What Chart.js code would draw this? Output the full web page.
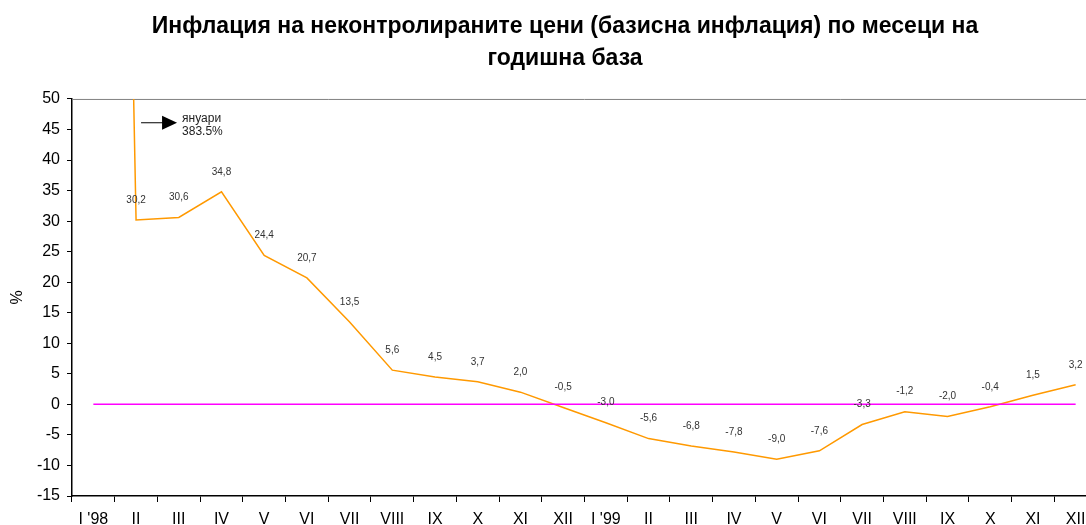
<!DOCTYPE html>
<html>
<head>
<meta charset="utf-8">
<script src="https://cdn.jsdelivr.net/npm/chart.js@4.4.1/dist/chart.umd.min.js"></script>
<style>
  body { margin: 0; overflow: hidden; background: #fff; }
  #wrap { width: 1130px; height: 525px; }
</style>
</head>
<body>
<div id="wrap"><canvas id="inflChart"></canvas></div>
<script>
// месеци 1998-1999
const months = ["I '98", "II", "III", "IV", "V", "VI", "VII", "VIII", "IX", "X", "XI", "XII",
                "I '99", "II", "III", "IV", "V", "VI", "VII", "VIII", "IX", "X", "XI", "XII"];
// базисна инфлация, %
const coreInflation = [383.5, 30.2, 30.6, 34.8, 24.4, 20.7, 13.5, 5.6, 4.5, 3.7, 2.0, -0.5,
                       -3.0, -5.6, -6.8, -7.8, -9.0, -7.6, -3.3, -1.2, -2.0, -0.4, 1.5, 3.2];
const zeroLine = months.map(() => 0);
const yMin = -15, yMax = 50, yStep = 5;
const titleLines = ["Инфлация на неконтролираните цени (базисна инфлация) по месеци на", "годишна база"];
const noteLines = ["януари", "383.5%"];

// стойности над точките + стрелка за януари
const labelsPlugin = {
    id: 'valueLabels',
    beforeDatasetsDraw(chart) {
        const { ctx, chartArea } = chart;
        ctx.save();
        ctx.strokeStyle = '#808080';
        ctx.lineWidth = 1;
        ctx.beginPath();
        ctx.moveTo(chartArea.left, chartArea.top + 0.5);
        ctx.lineTo(chartArea.right, chartArea.top + 0.5);
        ctx.stroke();
        ctx.restore();
    },
    afterDatasetsDraw(chart) {
        const ctx = chart.ctx;
        const meta = chart.getDatasetMeta(1);
        const ys = chart.scales.y;
        ctx.save();
        ctx.font = '10px Arial, "Liberation Sans"';
        ctx.fillStyle = '#333';
        ctx.textAlign = 'center';
        ctx.textBaseline = 'middle';
        meta.data.forEach((pt, i) => {
            const v = coreInflation[i];
            if (v > yMax) return;
            ctx.fillText(v.toFixed(1).replace('.', ','), pt.x, pt.y - 20);
        });

        // стрелка
        const x0 = meta.data[1].x + 5;
        const yA = ys.getPixelForValue(46.1);
        ctx.strokeStyle = '#000';
        ctx.fillStyle = '#000';
        ctx.lineWidth = 1;
        ctx.beginPath();
        ctx.moveTo(x0, yA);
        ctx.lineTo(x0 + 22, yA);
        ctx.stroke();
        ctx.beginPath();
        ctx.moveTo(x0 + 21, yA - 7);
        ctx.lineTo(x0 + 36, yA);
        ctx.lineTo(x0 + 21, yA + 7);
        ctx.closePath();
        ctx.fill();
        ctx.font = '12px Arial, "Liberation Sans"';
        ctx.fillStyle = '#222';
        ctx.textAlign = 'left';
        ctx.fillText(noteLines[0], x0 + 41, yA - 4);
        ctx.fillText(noteLines[1], x0 + 41, yA + 9);
        ctx.restore();
    }
};

new Chart(document.getElementById('inflChart').getContext('2d'), {
    type: 'line',
    data: {
        labels: months,
        datasets: [
            {
                data: zeroLine,
                borderColor: '#ff00ff',
                borderWidth: 1.5,
                pointRadius: 0,
                tension: 0
            },
            {
                data: coreInflation,
                borderColor: '#ff9900',
                borderWidth: 1.5,
                pointRadius: 0,
                tension: 0
            }
        ]
    },
    options: {
        responsive: true,
        maintainAspectRatio: false,
        animation: false,
        layout: { padding: { right: 33, left: 33, bottom: 0 } },
        plugins: {
            legend: { display: false },
            tooltip: { enabled: false },
            title: {
                display: true,
                text: titleLines,
                color: '#000',
                font: { family: 'Arial, "Liberation Sans"', size: 23, weight: 'bold', lineHeight: 1.39 },
                padding: { top: 11, bottom: 24 }
            }
        },
        scales: {
            x: {
                type: 'category',
                offset: true,
                grid: { offset: true, drawOnChartArea: false, drawTicks: true, tickLength: 6, color: '#000' },
                border: { color: '#000', width: 1.5 },
                ticks: {
                    color: '#000',
                    font: { family: 'Arial, "Liberation Sans"', size: 16 },
                    maxRotation: 0,
                    autoSkip: false,
                    padding: 8
                },
                afterFit(scale) { scale.height = 29; }
            },
            y: {
                min: yMin,
                max: yMax,
                ticks: {
                    stepSize: yStep,
                    color: '#000',
                    font: { family: 'Arial, "Liberation Sans"', size: 16 },
                    padding: 7
                },
                grid: { drawOnChartArea: false, drawTicks: true, tickLength: 5, color: '#000' },
                border: { color: '#000', width: 1.5 },
                title: {
                    display: true,
                    text: '%',
                    color: '#000',
                    font: { family: 'Arial, "Liberation Sans"', size: 16 },
                    padding: { top: -25, bottom: 0 }
                },
                afterFit(scale) { scale.width = 39; }
            }
        }
    },
    plugins: [labelsPlugin]
});
</script>
</body>
</html>
